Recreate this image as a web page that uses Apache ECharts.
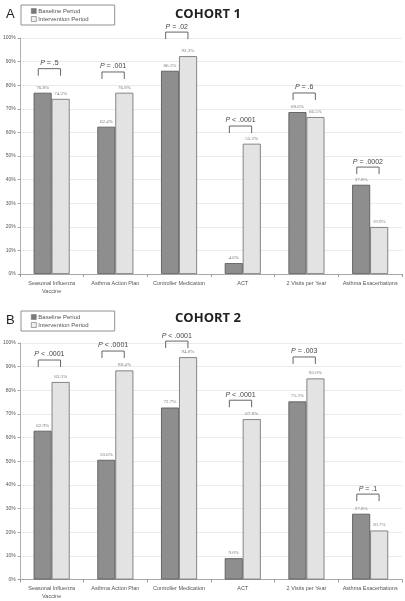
<!DOCTYPE html>
<html>
<head>
<meta charset="utf-8">
<script src="https://cdn.jsdelivr.net/npm/echarts@6/dist/echarts.min.js"></script>
<style>
  html, body { margin: 0; padding: 0; background: #fff; }
  #chart { width: 405px; height: 601px; }
</style>
</head>
<body>
<div id="chart"></div>
<script>
// categories and values (percent)
var categories = ['Seasonal Influenza\nVaccine', 'Asthma Action Plan', 'Controller Medication', 'ACT', '2 Visits per Year', 'Asthma Exacerbations'];
var c1Baseline = [76.8, 62.4, 86.1, 4.6, 68.6, 37.8];
var c1Intervention = [74.2, 76.8, 92.3, 55.2, 66.5, 19.9];
var c2Baseline = [62.9, 50.6, 72.7, 9.0, 75.3, 27.8];
var c2Intervention = [83.5, 88.4, 94.0, 67.8, 85.0, 20.7];
// p-values and the level (in %) at which each bracket sits
var c1PText = ['= .5', '= .001', '= .02', '< .0001', '= .6', '= .0002'];
var c1PLevel = [87, 85.6, 102.5, 62.7, 76.7, 45.3];
var c2PText = ['< .0001', '< .0001', '< .0001', '< .0001', '= .003', '= .1'];
var c2PLevel = [92.8, 96.6, 100.8, 75.8, 94.1, 36.1];
var yTicks = { min: 0, max: 100, interval: 10 };

var chart = echarts.init(document.getElementById('chart'));

var darkFill = '#8e8e8e', darkLine = '#505050';
var lightFill = '#e3e3e3', lightLine = '#6a6a6a';

function barLabel() {
  return {
    show: true, position: 'top', distance: 3,
    fontSize: 5, color: '#777', fontFamily: 'Liberation Serif',
    formatter: function (p) { return p.value.toFixed(1) + '%'; }
  };
}

function bracketSeries(idx, texts, levels) {
  return {
    type: 'custom',
    xAxisIndex: idx, yAxisIndex: idx,
    silent: true,
    z: 5,
    data: levels.map(function (v, i) { return [i, v]; }),
    renderItem: function (params, api) {
      var pt = api.coord([api.value(0), api.value(1)]);
      var band = api.size([1, 0])[0];
      var x0 = pt[0] - band * 0.21, x1 = pt[0] + band * 0.14, y = pt[1];
      var cx = (x0 + x1) / 2;
      return {
        type: 'group',
        children: [{
          type: 'polyline',
          shape: { points: [[x0, y + 7], [x0, y], [x1, y], [x1, y + 7]] },
          style: { stroke: '#555', lineWidth: 0.9, fill: null }
        }, {
          type: 'text',
          style: {
            x: cx, y: y - 2,
            text: '{i|P} ' + texts[params.dataIndex],
            rich: { i: { fontStyle: 'italic', fontSize: 7, fill: '#444', fontFamily: 'Liberation Sans' } },
            fontSize: 7, fill: '#444', fontFamily: 'Liberation Sans',
            align: 'center', verticalAlign: 'bottom'
          }
        }]
      };
    }
  };
}

function xAxis(idx) {
  return {
    type: 'category', gridIndex: idx, data: categories,
    axisLine: { lineStyle: { color: '#999', width: 0.8 } },
    axisTick: { show: true, length: 3, lineStyle: { color: '#999' } },
    axisLabel: { interval: 0, fontSize: 5.5, color: '#555', margin: 5, lineHeight: 8, fontFamily: 'Liberation Sans' }
  };
}

function yAxis(idx) {
  return {
    type: 'value', gridIndex: idx,
    min: yTicks.min, max: yTicks.max, interval: yTicks.interval,
    axisLine: { show: true, lineStyle: { color: '#999', width: 0.8 } },
    axisTick: { show: true, length: 2, lineStyle: { color: '#999' } },
    axisLabel: { formatter: '{value}%', fontSize: 5, color: '#555', margin: 4, fontFamily: 'Liberation Sans' },
    splitLine: { lineStyle: { color: '#e6e6e6', width: 0.8 } }
  };
}

function barSeries(name, idx, data, fill, line) {
  return {
    name: name, type: 'bar', xAxisIndex: idx, yAxisIndex: idx,
    data: data, barWidth: 18, barGap: '0%',
    itemStyle: { color: fill, borderColor: line, borderWidth: 0.8 },
    label: barLabel()
  };
}

function legend(top) {
  return {
    orient: 'vertical', left: 21, top: top, width: 79,
    padding: [3, 26, 3, 10], itemGap: 2,
    itemWidth: 5, itemHeight: 5, icon: 'rect',
    borderColor: '#777', borderWidth: 0.8,
    textStyle: { fontSize: 6, color: '#555', fontFamily: 'Liberation Sans', padding: [0, 0, 0, -3] },
    data: [
      { name: 'Baseline Period', itemStyle: { color: '#7a7a7a', borderColor: '#555', borderWidth: 0.4 } },
      { name: 'Intervention Period', itemStyle: { color: '#f0f0f0', borderColor: '#666', borderWidth: 0.6 } }
    ],
    selectedMode: false
  };
}

var option = {
  animation: false,
  title: [
    { text: 'COHORT 1', left: 203, top: 3, textAlign: 'center', textStyle: { fontSize: 13, fontWeight: 'bold', color: '#222', fontFamily: 'Open Sans' } },
    { text: 'COHORT 2', left: 203, top: 307, textAlign: 'center', textStyle: { fontSize: 13, fontWeight: 'bold', color: '#222', fontFamily: 'Open Sans' } },
    { text: 'A', left: 1, top: 3, textStyle: { fontSize: 13, fontWeight: 'normal', color: '#222', fontFamily: 'Liberation Sans' } },
    { text: 'B', left: 1, top: 309, textStyle: { fontSize: 13, fontWeight: 'normal', color: '#222', fontFamily: 'Liberation Sans' } }
  ],
  legend: [legend(5), legend(311)],
  grid: [
    { left: 19.5, right: 3, top: 38, height: 236 },
    { left: 19.5, right: 3, top: 343, height: 236.5 }
  ],
  xAxis: [xAxis(0), xAxis(1)],
  yAxis: [yAxis(0), yAxis(1)],
  series: [
    barSeries('Baseline Period', 0, c1Baseline, darkFill, darkLine),
    barSeries('Intervention Period', 0, c1Intervention, lightFill, lightLine),
    barSeries('Baseline Period', 1, c2Baseline, darkFill, darkLine),
    barSeries('Intervention Period', 1, c2Intervention, lightFill, lightLine),
    bracketSeries(0, c1PText, c1PLevel),
    bracketSeries(1, c2PText, c2PLevel)
  ]
};

chart.setOption(option);
</script>
</body>
</html>
